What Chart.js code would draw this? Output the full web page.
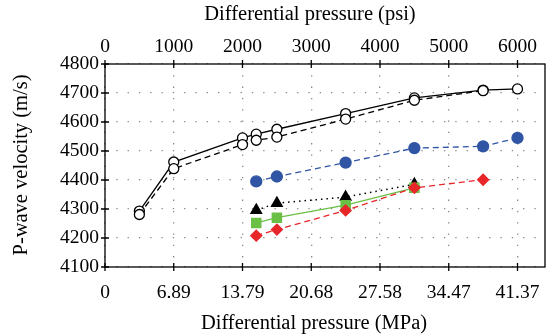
<!DOCTYPE html>
<html>
<head>
<meta charset="utf-8">
<script src="https://cdn.jsdelivr.net/npm/chart.js@4"></script>
<style>
  html, body { margin: 0; padding: 0; background: #fff; }
  canvas { display: block; }
</style>
</head>
<body>
<canvas id="chart" width="554" height="336"></canvas>
<script>
// Differential pressure in psi (x positions)
const psiAll = [500, 1000, 2000, 2200, 2500, 3500, 4500, 5500, 6000];
const psiShort = [2200, 2500, 3500, 4500];

// P-wave velocity, m/s
const openSolid = [4293, 4462, 4545, 4558, 4575, 4629, 4683, 4710, 4714];
const openDashed = [4281, 4439, 4522, 4537, 4548, 4610, 4675, 4708];
const bluePsi = [2200, 2500, 3500, 4500, 5500, 6000];
const blueVals = [4395, 4412, 4460, 4510, 4516, 4545];
const triVals = [4296, 4320, 4341, 4385];
const squareVals = [4252, 4270, 4313, 4373];
const redPsi = [2200, 2500, 3500, 4500, 5500];
const redVals = [4208, 4229, 4295, 4373, 4401];

// ticks and titles
const psiTicks = [0, 1000, 2000, 3000, 4000, 5000, 6000];
const mpaLabels = ['0', '6.89', '13.79', '20.68', '27.58', '34.47', '41.37'];
const velTicks = [4100, 4200, 4300, 4400, 4500, 4600, 4700, 4800];
const titles = {
    bottom: 'Differential pressure (MPa)',
    top: 'Differential pressure (psi)',
    left: 'P-wave velocity (m/s)'
};

const pts = (xs, ys) => ys.map((y, i) => ({ x: xs[i], y: y }));
const family = '"Liberation Serif", "DejaVu Serif", serif';
const tickFont = { family: family, size: 19.5 };
const gridDash = { display: false, dash: [1.3, 10] };

// box around plot, crossing tick marks and axis titles
const framePlugin = {
    id: 'frame',
    afterDraw(chart) {
        const ctx = chart.ctx;
        const a = chart.chartArea;
        ctx.save();
        ctx.strokeStyle = '#000';
        ctx.lineWidth = 1.3;
        ctx.strokeRect(a.left, a.top, a.right - a.left, a.bottom - a.top);
        ctx.beginPath();
        psiTicks.forEach(v => {
            const px = chart.scales.x.getPixelForValue(v);
            ctx.moveTo(px, a.bottom - 4); ctx.lineTo(px, a.bottom + 4);
            ctx.moveTo(px, a.top - 4); ctx.lineTo(px, a.top + 4);
        });
        velTicks.forEach(v => {
            const py = chart.scales.y.getPixelForValue(v);
            ctx.moveTo(a.left - 4, py); ctx.lineTo(a.left + 4, py);
        });
        ctx.stroke();

        ctx.fillStyle = '#000';
        ctx.font = '20.5px ' + family;
        ctx.textAlign = 'center';
        ctx.textBaseline = 'alphabetic';
        ctx.fillText(titles.bottom, 314, 329);
        ctx.fillText(titles.top, 310, 20);
        ctx.translate(22, 165);
        ctx.rotate(-Math.PI / 2);
        ctx.textBaseline = 'middle';
        ctx.fillText(titles.left, 0, 0);
        ctx.restore();
    }
};

new Chart(document.getElementById('chart'), {
    type: 'line',
    data: {
        datasets: [
            {
                data: pts(redPsi, redVals), order: 1,
                borderColor: '#e8262a', backgroundColor: '#e8262a', borderWidth: 1.3,
                borderDash: [6, 4], pointStyle: 'rectRot', pointRadius: 5.5
            },
            {
                data: pts(psiShort, squareVals), order: 2,
                borderColor: '#6abf45', backgroundColor: '#6abf45', borderWidth: 1.3,
                pointStyle: 'rect', pointRadius: 6.5
            },
            {
                data: pts(psiShort, triVals), order: 3,
                borderColor: '#000', backgroundColor: '#000', borderWidth: 1.5,
                borderDash: [1.5, 4], pointStyle: 'triangle', pointRadius: 6
            },
            {
                data: pts(bluePsi, blueVals), order: 4,
                borderColor: '#2f55a4', backgroundColor: '#2f55a4', borderWidth: 1.3,
                borderDash: [6, 4], pointStyle: 'circle', pointRadius: 5.5
            },
            {
                data: pts(psiAll, openDashed), order: 5,
                borderColor: '#000', backgroundColor: '#fff', borderWidth: 1.3,
                borderDash: [6, 4], pointStyle: 'circle', pointRadius: 5,
                pointBorderWidth: 1.3
            },
            {
                data: pts(psiAll, openSolid), order: 6,
                borderColor: '#000', backgroundColor: '#fff', borderWidth: 1.3,
                pointStyle: 'circle', pointRadius: 5, pointBorderWidth: 1.3
            }
        ]
    },
    options: {
        responsive: false,
        animation: false,
        layout: { padding: { right: 9 } },
        plugins: { legend: { display: false }, tooltip: { enabled: false } },
        elements: { line: { tension: 0 }, point: { borderWidth: 0 } },
        scales: {
            x: {
                type: 'linear', position: 'bottom', min: 0, max: 6400,
                afterBuildTicks: s => { s.ticks = psiTicks.map(v => ({ value: v })); },
                afterFit: s => { s.height = 69; },
                border: gridDash,
                grid: { color: '#888', lineWidth: 1.3, drawTicks: false },
                ticks: {
                    color: '#000', font: tickFont, padding: 14, maxRotation: 0,
                    callback: (v) => mpaLabels[psiTicks.indexOf(v)]
                }
            },
            x2: {
                type: 'linear', position: 'top', min: 0, max: 6400,
                afterBuildTicks: s => { s.ticks = psiTicks.map(v => ({ value: v })); },
                afterFit: s => { s.height = 64; },
                border: { display: false },
                grid: { display: false },
                ticks: { color: '#000', font: tickFont, padding: -3, maxRotation: 0, callback: v => String(v) }
            },
            y: {
                type: 'linear', min: 4100, max: 4800,
                afterBuildTicks: s => { s.ticks = velTicks.map(v => ({ value: v })); },
                afterFit: s => { s.width = 105; },
                border: gridDash,
                grid: { color: '#888', lineWidth: 1.3, drawTicks: false },
                ticks: { color: '#000', font: tickFont, padding: 6, callback: v => String(v) }
            }
        }
    },
    plugins: [framePlugin]
});
</script>
</body>
</html>
